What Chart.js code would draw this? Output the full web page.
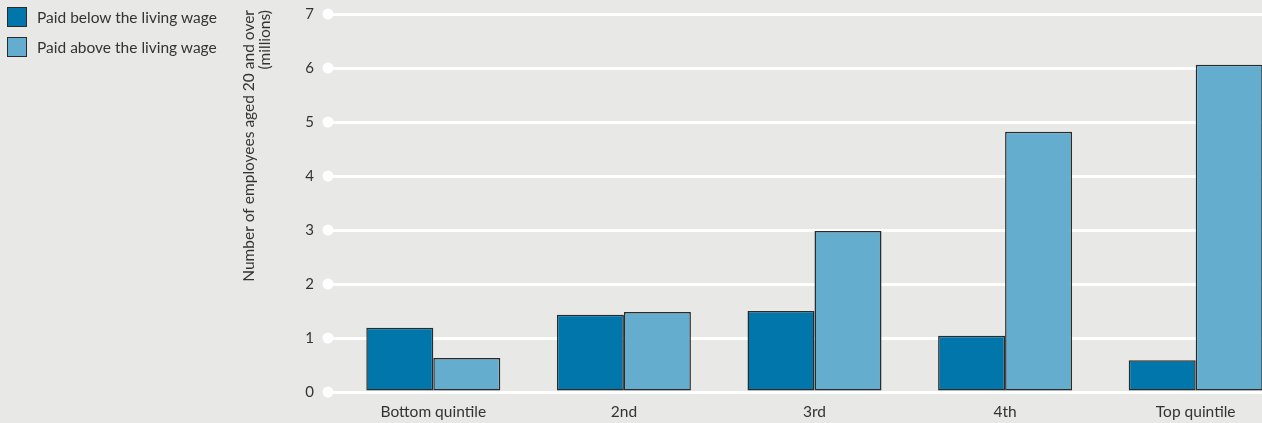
<!DOCTYPE html>
<html>
<head>
<meta charset="utf-8">
<script src="https://cdn.jsdelivr.net/npm/chart.js@4.4.1/dist/chart.umd.min.js"></script>
<style>
  html, body { margin: 0; padding: 0; background: #e8e9e6; overflow: hidden; }
  body { width: 1262px; height: 423px; position: relative; font-family: Lato, "Open Sans", sans-serif; }
  #wrap { position: absolute; left: 0; top: 0; width: 1291px; height: 423px; }
  .legend { position: absolute; left: 7px; top: 7px; font-size: 15.5px; color: #333; }
  .legend div { display: flex; align-items: center; height: 20px; margin-bottom: 10px; }
  .legend span.box { box-sizing: border-box; width: 20px; height: 20px; border: 1.5px solid #2b2b2b; margin-right: 10px; }
</style>
</head>
<body>
<div id="wrap"><canvas id="chart"></canvas></div>
<div class="legend" id="legend"></div>
<script>
const categories = ["Bottom quintile", "2nd", "3rd", "4th", "Top quintile"];
const belowLivingWage = [1.19, 1.43, 1.5, 1.04, 0.59];
const aboveLivingWage = [0.63, 1.48, 2.98, 4.82, 6.06];
const yTicks = [0, 1, 2, 3, 4, 5, 6, 7];
const seriesNames = ["Paid below the living wage", "Paid above the living wage"];
const seriesColors = ["#0076aa", "#65adcf"];
const yTitle = ["Number of employees aged 20 and over", "(millions)"];

// legend sits outside the canvas, top left
const legendEl = document.getElementById("legend");
seriesNames.forEach((name, i) => {
  const row = document.createElement("div");
  row.innerHTML = `<span class="box" style="background:${seriesColors[i]}"></span>${name}`;
  legendEl.appendChild(row);
});

// white dots at the left end of each gridline, plus the rotated axis title
const axisDecor = {
  id: "axisDecor",
  afterDraw(chart) {
    const { ctx, chartArea, scales } = chart;
    const x = chartArea.left - 10;
    ctx.save();
    ctx.fillStyle = "#ffffff";
    yTicks.forEach((v) => {
      const y = scales.y.getPixelForValue(v);
      ctx.beginPath();
      ctx.arc(x, y, 5.5, 0, Math.PI * 2);
      ctx.fill();
    });
    ctx.fillStyle = "#333";
    ctx.font = "15.5px Lato";
    ctx.textAlign = "right";
    ctx.textBaseline = "middle";
    const xs = [249, 265];
    yTitle.forEach((line, i) => {
      ctx.save();
      ctx.translate(xs[i], 10);
      ctx.rotate(-Math.PI / 2);
      ctx.fillText(line, 0, 0);
      ctx.restore();
    });
    ctx.restore();
  }
};

new Chart(document.getElementById("chart").getContext("2d"), {
  type: "bar",
  data: {
    labels: categories,
    datasets: [
      {
        label: seriesNames[0],
        data: belowLivingWage,
        backgroundColor: seriesColors[0],
        borderColor: "#2b2b2b",
        borderWidth: 1.5,
        borderSkipped: false,
      },
      {
        label: seriesNames[1],
        data: aboveLivingWage,
        backgroundColor: seriesColors[1],
        borderColor: "#2b2b2b",
        borderWidth: 1.5,
        borderSkipped: false,
      },
    ],
  },
  options: {
    responsive: true,
    maintainAspectRatio: false,
    animation: false,
    categoryPercentage: 0.703,
    barPercentage: 1,
    layout: { padding: { top: 14, left: 0, right: 0, bottom: 0 } },
    plugins: { legend: { display: false }, tooltip: { enabled: false } },
    scales: {
      x: {
        border: { display: false },
        grid: { display: false, drawTicks: false },
        ticks: { color: "#333", font: { family: "Lato", size: 15.5 }, padding: 11 },
        afterFit: (scale) => { scale.height = 31; },
      },
      y: {
        min: 0,
        max: 7,
        border: { display: false },
        grid: { color: "#ffffff", lineWidth: 3, tickLength: 10, drawTicks: true },
        ticks: {
          stepSize: 1,
          color: "#333",
          font: { family: "Lato", size: 15 },
          padding: 14,
        },
        afterBuildTicks: (scale) => { scale.ticks = yTicks.map((v) => ({ value: v })); },
        afterFit: (scale) => {
          scale.width = 338;
          scale.paddingTop = 0;
          scale.paddingBottom = 0;
        },
      },
    },
  },
  plugins: [axisDecor],
});
</script>
</body>
</html>
